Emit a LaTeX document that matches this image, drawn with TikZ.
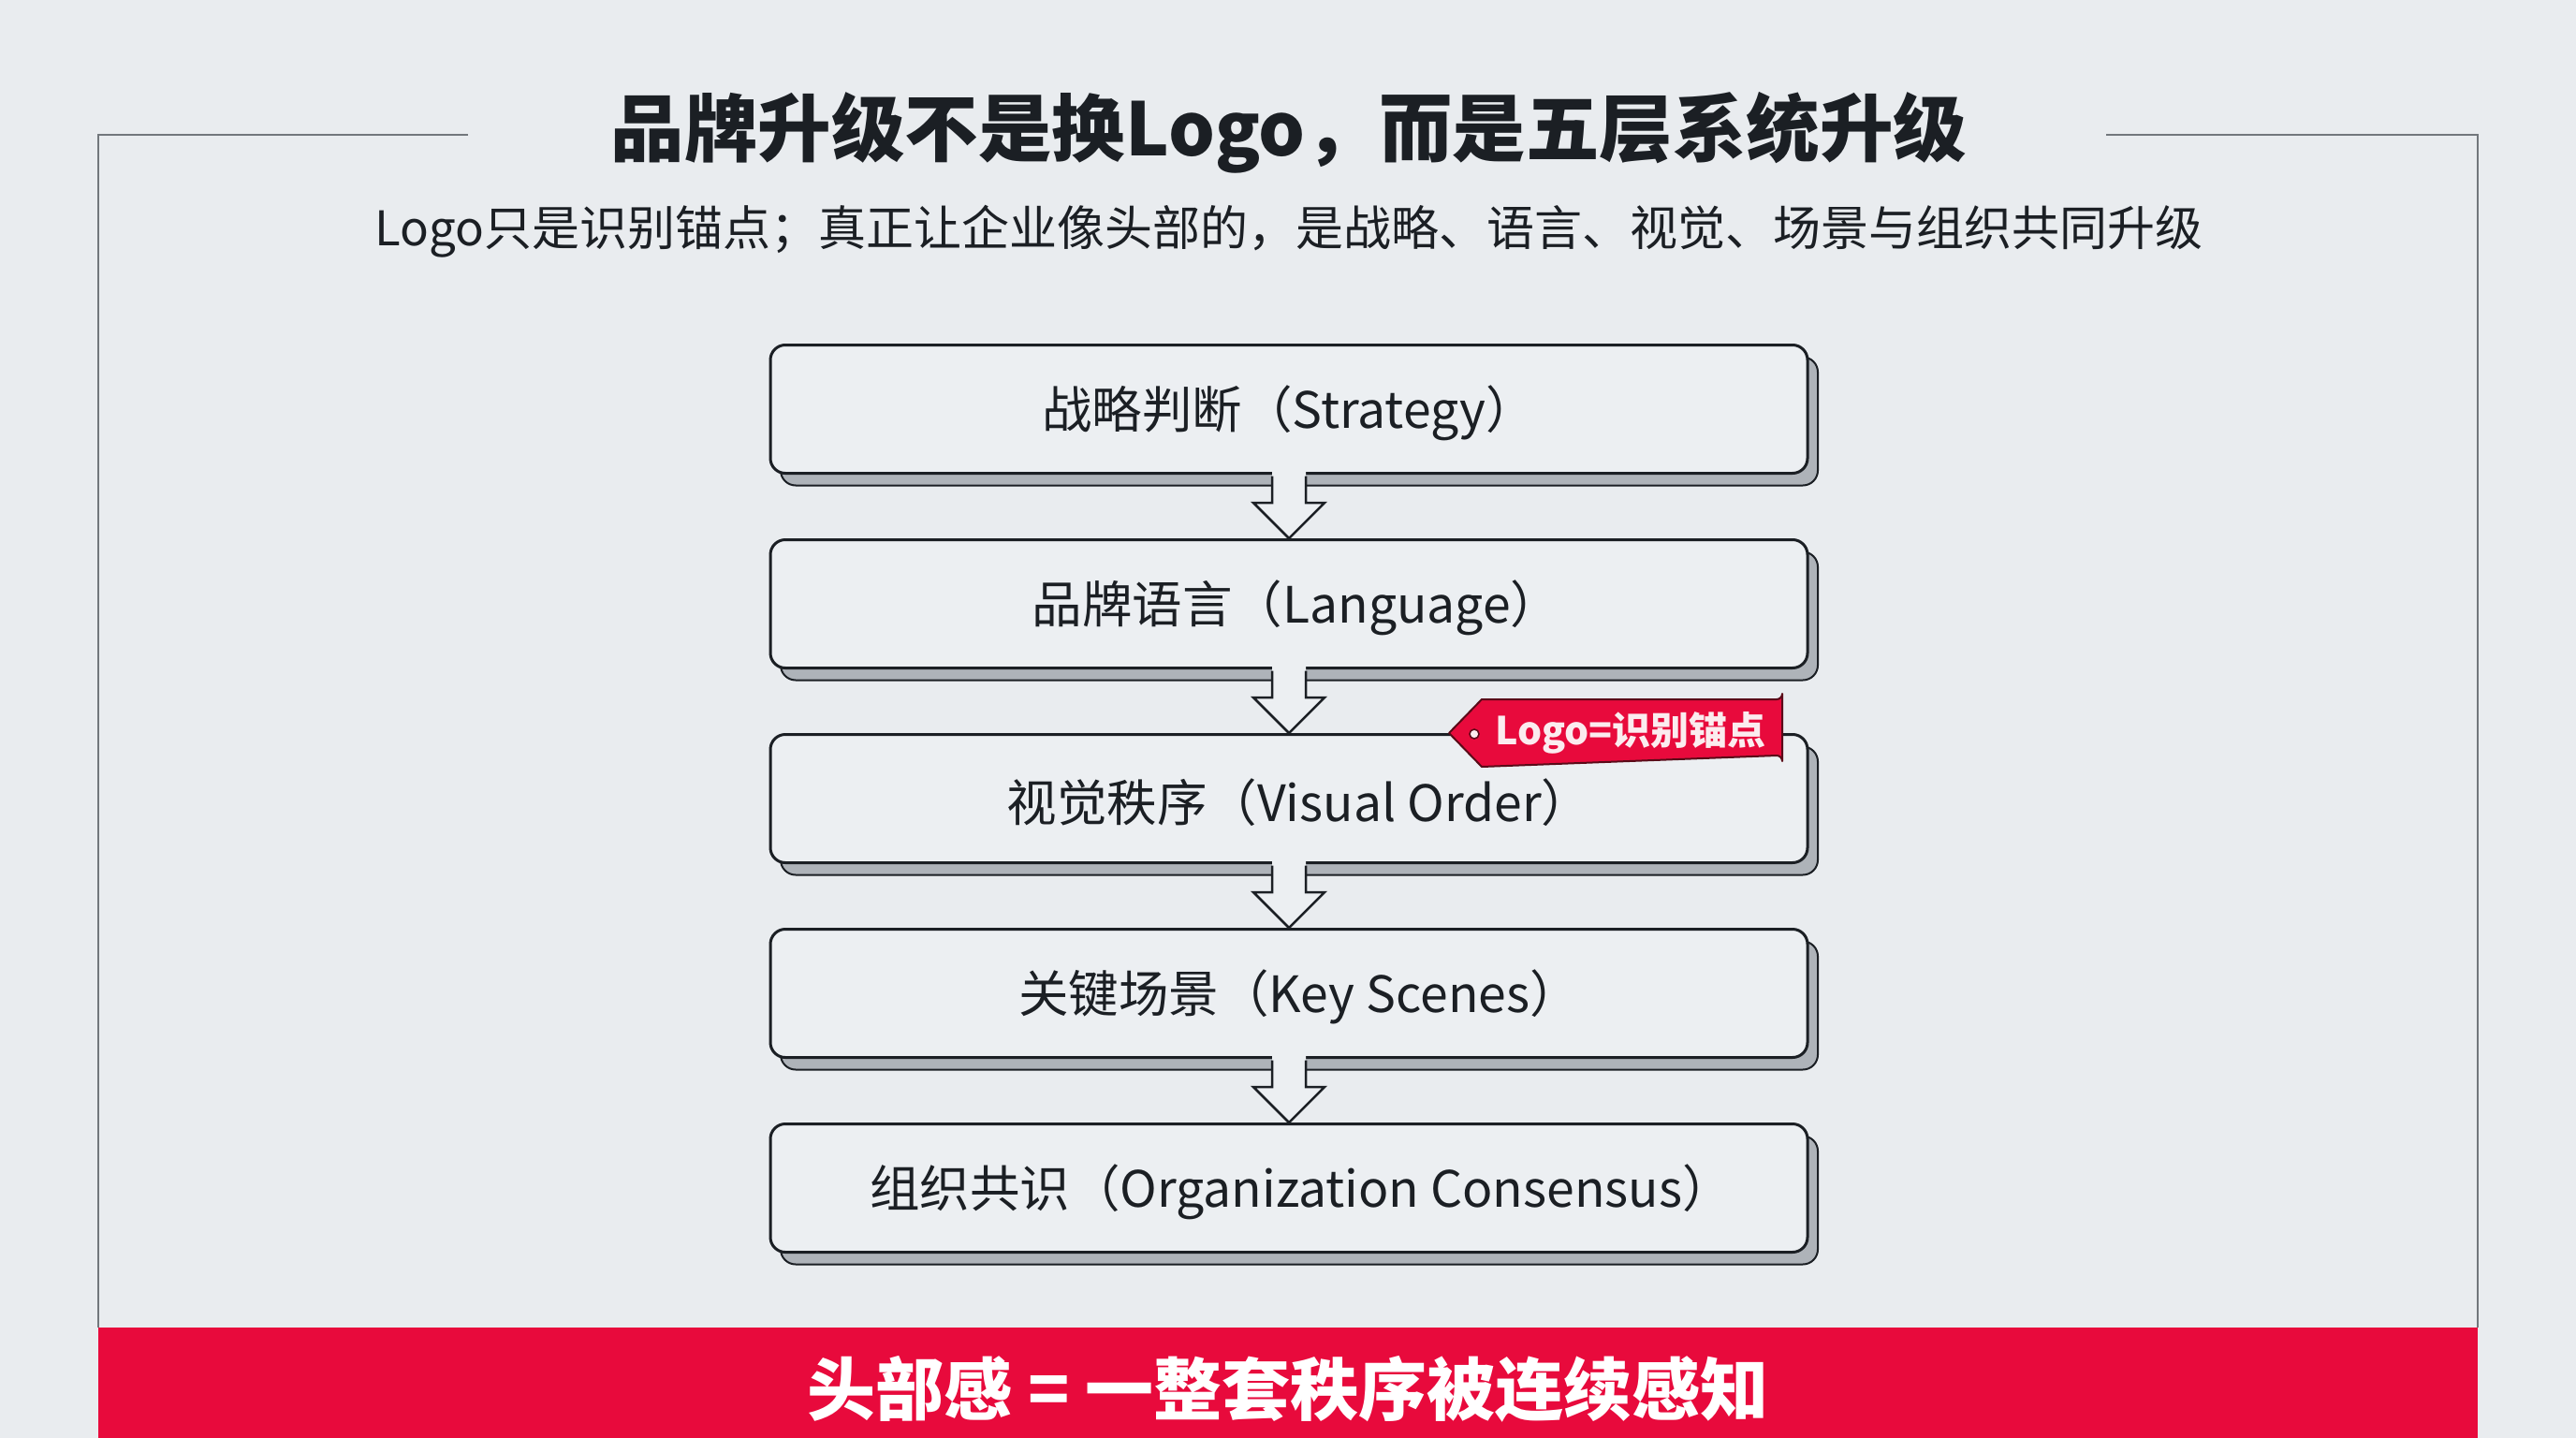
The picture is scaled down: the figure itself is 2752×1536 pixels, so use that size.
\documentclass[tikz,border=0pt]{standalone}
\usepackage{fontspec}
\setmainfont{Noto Sans CJK SC}
\usetikzlibrary{calc,shadows}
\definecolor{bg}{HTML}{E9ECEF}
\definecolor{boxfill}{HTML}{ECEFF2}
\definecolor{ink}{HTML}{1B1F24}
\definecolor{framegray}{HTML}{72777C}
\definecolor{shadowgray}{HTML}{AEB3B9}
\definecolor{brandred}{HTML}{E80A3C}
\definecolor{tagline}{HTML}{5A0A18}
\definecolor{tagtext}{HTML}{FBECEF}
\newcommand\lay[2][0pt]{\hbox{\kern#1\raisebox{-4pt}[\height][\depth]{#2}\kern-#1}}
\newcommand\drawflow[2]{%
  \fill[boxfill] ($(#1.south)+(-18,-3)$) -- ($(#2.north)+(-18,-38)$) -- ($(#2.north)+(-38,-38)$) -- (#2.north) -- ($(#2.north)+(38,-38)$) -- ($(#2.north)+(18,-38)$) -- ($(#1.south)+(18,-3)$) -- cycle;
  \draw[flowline] ($(#1.south)+(-18,1.5)$) -- ($(#2.north)+(-18,-38)$) -- ($(#2.north)+(-38,-38)$) -- (#2.north) -- ($(#2.north)+(38,-38)$) -- ($(#2.north)+(18,-38)$) -- ($(#1.south)+(18,1.5)$);
}
\begin{document}
\begin{tikzpicture}[x=1pt,y=-1pt,
  layer/.style={draw=ink, line width=3pt, fill=boxfill, rounded corners=16pt,
    minimum width=1108pt, minimum height=137pt, inner sep=0pt,
    font=\fontsize{53.5}{60}\selectfont, text=ink,
    general shadow={fill=shadowgray, draw=ink, line width=2pt, shadow xshift=11pt, shadow yshift=-13pt}},
  flowline/.style={draw=ink, line width=2.5pt, line join=miter},
  frameline/.style={draw=framegray, line width=2.5pt},
]
\useasboundingbox (0,0) rectangle (2752,1536);
\fill[bg] (0,0) rectangle (2752,1536);

% frame
\draw[frameline] (500,144) -- (105,144) -- (105,1418);
\draw[frameline] (2250,144) -- (2647,144) -- (2647,1418);

% titles
\node (title) at (1377,142) [text=ink, font=\fontsize{78.5}{90}\selectfont\bfseries] {品牌升级不是换Logo，而是五层系统升级};
\node (subtitle) at (1377,247) [text=ink, font=\fontsize{51}{60}\selectfont] {Logo只是识别锚点；真正让企业像头部的，是战略、语言、视觉、场景与组织共同升级};

% layers
\node[layer] (b1) at (1377,437) {\lay{战略判断（Strategy）}};
\node[layer] (b2) at (1377,645) {\lay[8pt]{品牌语言（Language）}};
\node[layer] (b3) at (1377,853) {\lay[11pt]{视觉秩序（Visual Order）}};
\node[layer] (b4) at (1377,1061) {\lay[11pt]{关键场景（Key Scenes）}};
\node[layer] (b5) at (1377,1269) {\lay[13pt]{组织共识（Organization Consensus）}};

\drawflow{b1}{b2}
\drawflow{b2}{b3}
\drawflow{b3}{b4}
\drawflow{b4}{b5}

% tag
\filldraw[fill=brandred, draw=tagline, line width=2pt, line join=round]
  (1548,783) -- (1583,747) -- (1898,747) arc[start angle=-90, end angle=0, radius=6pt] -- (1904,813)
  arc[start angle=0, end angle=90, radius=6pt] -- (1583,819) -- cycle;
\filldraw[fill=tagtext, draw=tagline, line width=1.5pt] (1575,784) circle[radius=5pt];
\node (tag) at (1742,783) [text=tagtext, font=\fontsize{41}{48}\selectfont\bfseries] {Logo=识别锚点};

% bottom band
\fill[brandred] (105,1418) rectangle (2647,1536);
\node (motto) at (1376,1484) [text=white, font=\fontsize{73}{84}\selectfont\bfseries] {头部感 = 一整套秩序被连续感知};
\end{tikzpicture}
\end{document}
